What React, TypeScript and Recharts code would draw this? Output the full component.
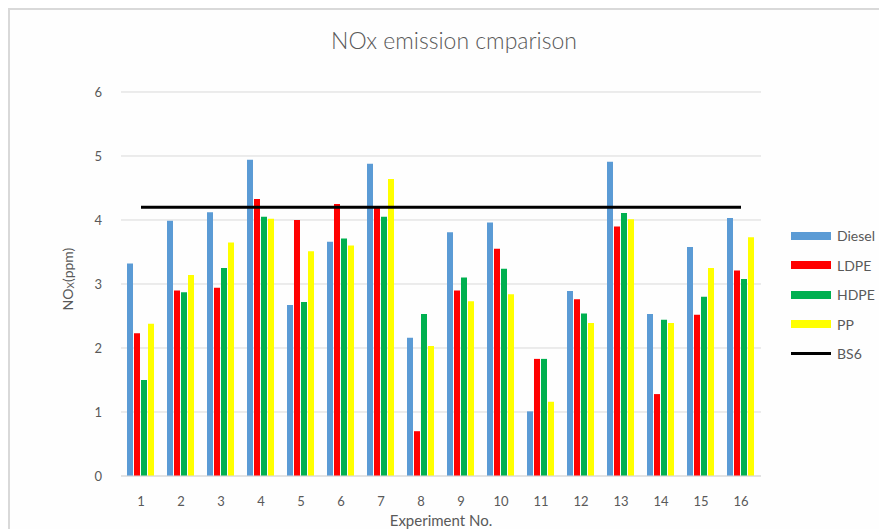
import { ComposedChart, Bar, Line, XAxis, YAxis, CartesianGrid, Legend } from 'recharts'

// NOx readings per experiment (ppm)
const experiments = ['1', '2', '3', '4', '5', '6', '7', '8', '9', '10', '11', '12', '13', '14', '15', '16']
const diesel = [3.32, 3.99, 4.12, 4.94, 2.67, 3.66, 4.88, 2.16, 3.81, 3.96, 1.01, 2.89, 4.91, 2.53, 3.58, 4.03]
const ldpe = [2.23, 2.9, 2.94, 4.33, 4.0, 4.25, 4.2, 0.7, 2.9, 3.55, 1.83, 2.76, 3.9, 1.28, 2.52, 3.21]
const hdpe = [1.5, 2.87, 3.25, 4.05, 2.72, 3.71, 4.05, 2.53, 3.1, 3.24, 1.83, 2.54, 4.11, 2.44, 2.8, 3.08]
const pp = [2.38, 3.14, 3.65, 4.02, 3.51, 3.6, 4.64, 2.03, 2.73, 2.84, 1.16, 2.39, 4.01, 2.39, 3.25, 3.73]
const bs6Limit = 4.2
const yTicks = [0, 1, 2, 3, 4, 5, 6]

const FONT = 'Lato, "Open Sans", sans-serif'
const GREY = '#595959'

const series = [
  { key: 'Diesel', color: '#5B9BD5' },
  { key: 'LDPE', color: '#FF0000' },
  { key: 'HDPE', color: '#00B050' },
  { key: 'PP', color: '#FFFF00' },
]

const data = experiments.map((exp, i) => ({
  exp,
  Diesel: diesel[i],
  LDPE: ldpe[i],
  HDPE: hdpe[i],
  PP: pp[i],
  BS6: bs6Limit,
}))

function YLabel({ viewBox }: any) {
  const cx = viewBox.x + 17
  const cy = viewBox.y + viewBox.height / 2 - 5
  return (
    <text
      x={cx}
      y={cy}
      transform={`rotate(-90, ${cx}, ${cy})`}
      textAnchor="middle"
      dominantBaseline="central"
      fill={GREY}
      fontSize={14}
      fontFamily={FONT}
    >
      NO<tspan fontSize={10} dy={3}>X</tspan>
      <tspan dy={-3}>(ppm)</tspan>
    </text>
  )
}

function XLabel({ viewBox }: any) {
  return (
    <text
      x={viewBox.x + viewBox.width / 2}
      y={viewBox.y + 44}
      textAnchor="middle"
      dominantBaseline="central"
      fill={GREY}
      fontSize={15}
      fontFamily={FONT}
    >
      Experiment No.
    </text>
  )
}

function LegendBox({ payload }: any) {
  const order = ['Diesel', 'LDPE', 'HDPE', 'PP', 'BS6']
  const items = order.map(k => (payload || []).find((p: any) => p.value === k)).filter(Boolean)
  return (
    <div style={{ fontFamily: FONT, fontSize: 14, color: GREY }}>
      {items.map((p: any) => (
        <div key={p.value} style={{ display: 'flex', alignItems: 'center', height: 29.5 }}>
          <span
            style={{
              display: 'inline-block',
              width: 40,
              height: p.value === 'BS6' ? 3 : 8,
              background: p.color,
              marginRight: 6,
            }}
          />
          <span>{p.value}</span>
        </div>
      ))}
    </div>
  )
}

export default function App() {
  return (
    <div
      style={{
        position: 'relative',
        width: 879,
        height: 521,
        borderTop: '2px solid #d9d9d9',
        borderLeft: '2px solid #d9d9d9',
        background: '#fefefe',
      }}
    >
      <div
        style={{
          position: 'absolute',
          left: 0,
          width: 888,
          top: 17,
          textAlign: 'center',
          fontFamily: FONT,
          fontSize: 23,
          fontWeight: 300,
          color: GREY,
          lineHeight: '26px',
          zIndex: 2,
        }}
      >
        NOx emission cmparison
      </div>
      <ComposedChart
        width={877}
        height={519}
        data={data}
        margin={{ top: 82, right: 26, left: 40, bottom: 8 }}
        barCategoryGap="15%"
        barGap={1}
      >
        <CartesianGrid vertical={false} stroke="#d9d9d9" />
        <XAxis
          dataKey="exp"
          height={45}
          tickLine={false}
          axisLine={{ stroke: '#d9d9d9' }}
          tick={{ fontSize: 13, fill: GREY, fontFamily: FONT }}
          tickMargin={15}
          interval={0}
          label={{ content: XLabel }}
        />
        <YAxis
          width={71}
          domain={[0, 6]}
          ticks={yTicks}
          tickLine={false}
          axisLine={false}
          tick={{ fontSize: 13, fill: GREY, fontFamily: FONT }}
          tickMargin={13}
          label={{ content: YLabel }}
        />
        {series.map(s => (
          <Bar key={s.key} dataKey={s.key} fill={s.color} isAnimationActive={false} />
        ))}
        <Line
          dataKey="BS6"
          stroke="#000000"
          strokeWidth={3}
          dot={false}
          activeDot={false}
          isAnimationActive={false}
        />
        <Legend
          layout="vertical"
          align="right"
          verticalAlign="top"
          content={LegendBox}
          wrapperStyle={{ left: 781, top: 211, width: 100 }}
        />
      </ComposedChart>
    </div>
  )
}
